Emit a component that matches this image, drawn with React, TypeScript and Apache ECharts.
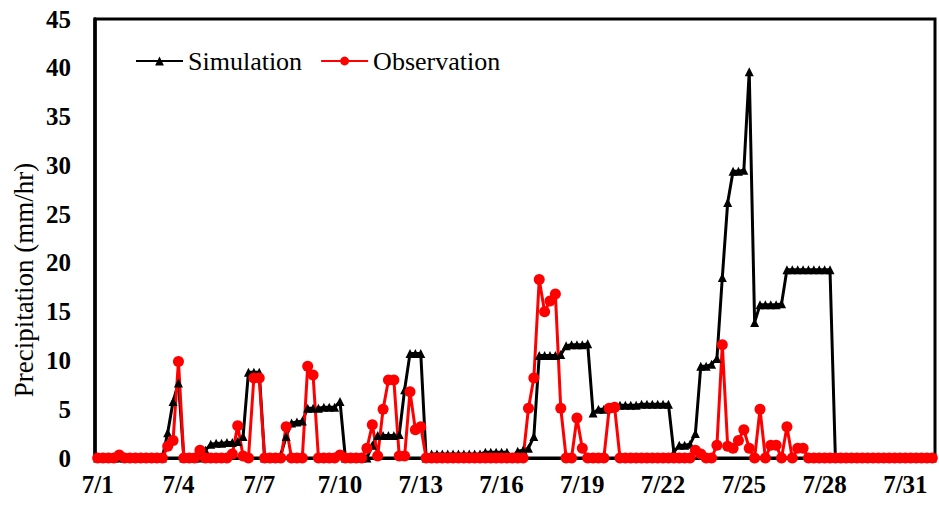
import React, { useEffect, useRef } from "react";
import * as echarts from "echarts";

// 5 samples per day, 7/1 00:00 ... 7/31 19:12
const SIM: number[] = [
  0, 0, 0, 0, 0, 0, 0, 0, 0, 0,
  0, 0, 0, 2.6, 5.8, 7.7, 0, 0, 0, 0,
  0.8, 1.4, 1.5, 1.5, 1.6, 1.6, 1.7, 2.2, 8.8, 8.8,
  8.8, 0, 0, 0, 0.3, 2.2, 3.6, 3.7, 3.8, 5.1,
  5.1, 5.1, 5.2, 5.2, 5.2, 5.8, 0, 0, 0, 0,
  0, 1.3, 2.3, 2.3, 2.3, 2.3, 2.4, 7.0, 10.7, 10.7,
  10.7, 0, 0.4, 0.4, 0.4, 0.4, 0.4, 0.4, 0.4, 0.4,
  0.4, 0.4, 0.6, 0.6, 0.6, 0.6, 0.6, 0.1, 0.7, 0.8,
  1.0, 2.2, 10.5, 10.5, 10.5, 10.5, 10.6, 11.5, 11.6, 11.6,
  11.6, 11.7, 4.6, 5.0, 5.0, 5.1, 5.3, 5.4, 5.4, 5.4,
  5.4, 5.5, 5.5, 5.5, 5.5, 5.5, 5.5, 0.6, 1.3, 1.3,
  1.4, 2.5, 9.4, 9.4, 9.6, 10.2, 18.5, 26.2, 29.4, 29.4,
  29.5, 39.6, 13.9, 15.7, 15.7, 15.7, 15.7, 15.8, 19.3, 19.3,
  19.3, 19.3, 19.3, 19.3, 19.3, 19.3, 19.3, 0, 0, 0,
  0, 0, 0, 0, 0, 0, 0, 0, 0, 0,
  0, 0, 0, 0, 0, 0,
];

const OBS: number[] = [
  0, 0, 0, 0, 0.3, 0, 0, 0, 0, 0,
  0, 0, 0, 1.2, 1.8, 9.9, 0, 0, 0, 0.8,
  0, 0, 0, 0, 0, 0.4, 3.3, 0.2, 0, 8.2,
  8.2, 0, 0, 0, 0, 3.2, 0, 0, 0, 9.4,
  8.5, 0, 0, 0, 0, 0.3, 0, 0, 0, 0,
  1.0, 3.4, 0.2, 5.0, 8.0, 8.0, 0.2, 0.2, 6.8, 2.9,
  3.2, 0, 0, 0, 0, 0, 0, 0, 0, 0,
  0, 0, 0, 0, 0, 0, 0, 0, 0, 0,
  5.1, 8.2, 18.3, 15.0, 16.1, 16.8, 5.1, 0, 0, 4.1,
  1.0, 0, 0, 0, 0, 5.1, 5.2, 0, 0, 0,
  0, 0, 0, 0, 0, 0, 0, 0, 0, 0,
  0, 0.8, 0.4, 0, 0, 1.3, 11.6, 1.2, 1.0, 1.8,
  2.9, 1.0, 0, 5.0, 0, 1.3, 1.3, 0, 3.2, 0,
  1.0, 1.0, 0, 0, 0, 0, 0, 0, 0, 0,
  0, 0, 0, 0, 0, 0, 0, 0, 0, 0,
  0, 0, 0, 0, 0, 0,
];

const SAMPLES_PER_DAY = 5;
const LABEL_EVERY_DAYS = 3;
const Y_MIN = 0;
const Y_MAX = 45;
const Y_STEP = 5;

const TIMES: string[] = SIM.map((_, i) => {
  const day = Math.floor(i / SAMPLES_PER_DAY) + 1;
  const mins = (i % SAMPLES_PER_DAY) * (1440 / SAMPLES_PER_DAY);
  const hh = String(Math.floor(mins / 60)).padStart(2, "0");
  const mm = String(mins % 60).padStart(2, "0");
  return `7/${day} ${hh}:${mm}`;
});

const FONT = "'Liberation Serif', 'Times New Roman', serif";

export default function App() {
  const ref = useRef<HTMLDivElement>(null);
  useEffect(() => {
    if (!ref.current) return;
    const chart = echarts.init(ref.current, undefined, { renderer: "svg" });
    chart.setOption({
      animation: false,
      backgroundColor: "#fff",
      grid: {
        left: 95,
        right: 4,
        top: 19,
        bottom: 50,
        show: true,
        borderColor: "#000",
        borderWidth: 3,
        backgroundColor: "transparent",
      },
      legend: {
        left: 130,
        top: 43,
        itemWidth: 47,
        itemHeight: 11,
        itemGap: 18,
        textStyle: { fontFamily: FONT, fontSize: 26, color: "#000" },
        data: ["Simulation", "Observation"],
      },
      xAxis: {
        type: "category",
        data: TIMES,
        boundaryGap: true,
        axisLine: { lineStyle: { color: "#000", width: 3 } },
        axisTick: { show: false },
        splitLine: { show: false },
        axisLabel: {
          interval: SAMPLES_PER_DAY * LABEL_EVERY_DAYS - 1,
          formatter: (v: string) => v.split(" ")[0],
          fontFamily: FONT,
          fontSize: 25,
          fontWeight: "bold",
          color: "#000",
          margin: 14,
        },
      },
      yAxis: {
        type: "value",
        min: Y_MIN,
        max: Y_MAX,
        interval: Y_STEP,
        axisLine: { show: true, lineStyle: { color: "#000", width: 3.5 } },
        axisTick: { show: false },
        splitLine: { show: false },
        axisLabel: {
          fontFamily: FONT,
          fontSize: 25,
          fontWeight: "bold",
          color: "#000",
          margin: 24,
        },
      },
      graphic: [
        {
          type: "text",
          x: 24,
          y: 280,
          rotation: Math.PI / 2,
          style: {
            text: "Precipitation (mm/hr)",
            fontFamily: FONT,
            fontSize: 27,
            fill: "#000",
            align: "center",
            verticalAlign: "middle",
          },
        },
      ],
      series: [
        {
          name: "Simulation",
          type: "line",
          data: SIM,
          symbol: "triangle",
          symbolSize: 9,
          showAllSymbol: true,
          color: "#000",
          lineStyle: { color: "#000", width: 3 },
          itemStyle: { color: "#000" },
        },
        {
          name: "Observation",
          type: "line",
          data: OBS,
          symbol: "circle",
          symbolSize: 11,
          showAllSymbol: true,
          color: "#ff0000",
          lineStyle: { color: "#ff0000", width: 3 },
          itemStyle: { color: "#ff0000" },
        },
      ],
    });
    return () => chart.dispose();
  }, []);
  return (
    <div
      ref={ref}
      style={{ position: "fixed", left: 0, top: 0, width: 939, height: 508, background: "#fff" }}
    />
  );
}
